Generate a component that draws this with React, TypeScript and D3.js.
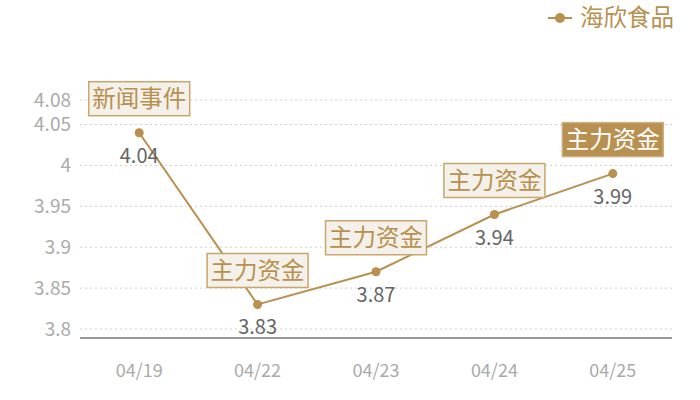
import * as d3 from "d3";

const WIDTH = 700;
const HEIGHT = 400;
const MARGIN = { top: 0, right: 28, bottom: 62, left: 80 };

const dates = ["04/19", "04/22", "04/23", "04/24", "04/25"];
const prices = [4.04, 3.83, 3.87, 3.94, 3.99];
const tags = ["新闻事件", "主力资金", "主力资金", "主力资金", "主力资金"];
const highlighted = [false, false, false, false, true];
const yTicks = [3.8, 3.85, 3.9, 3.95, 4, 4.05, 4.08];
const seriesName = "海欣食品";

const GOLD = "#b8904f";
const FONT = "'Noto Sans CJK SC', 'Noto Sans', sans-serif";

export default function App() {
  const boundsWidth = WIDTH - MARGIN.left - MARGIN.right;
  const bottom = HEIGHT - MARGIN.bottom;

  const xScale = d3.scaleBand().domain(dates).range([MARGIN.left, MARGIN.left + boundsWidth]);
  const yScale = d3.scaleLinear().domain([3.789, 4.08]).range([bottom, 100]);
  const xPos = (d: string) => (xScale(d) ?? 0) + xScale.bandwidth() / 2;

  const line = d3
    .line<number>()
    .x((_, i) => xPos(dates[i]))
    .y((v) => yScale(v));

  return (
    <svg
      width={WIDTH}
      height={HEIGHT}
      style={{ position: "absolute", top: 0, left: 0, fontFamily: FONT }}
    >
      <rect width={WIDTH} height={HEIGHT} fill="#fff" />

      {/* legend */}
      <g transform="translate(548,18)">
        <line x1={0} x2={24} y1={0} y2={0} stroke={GOLD} strokeWidth={2} />
        <circle cx={12} cy={0} r={5} fill={GOLD} />
        <text x={32} y={0} dy="0.36em" fontSize={23.5} fill={GOLD}>
          {seriesName}
        </text>
      </g>

      {/* grid + y labels */}
      {yTicks.map((t) => (
        <g key={t}>
          <line
            x1={MARGIN.left}
            x2={MARGIN.left + boundsWidth}
            y1={yScale(t)}
            y2={yScale(t)}
            stroke="#cfcfcf"
            strokeDasharray="2,3"
          />
          <text
            x={71}
            y={yScale(t)}
            dy="0.35em"
            textAnchor="end"
            fontSize={19}
            fill="#aaa"
          >
            {t}
          </text>
        </g>
      ))}

      {/* x axis */}
      <line
        x1={MARGIN.left}
        x2={MARGIN.left + boundsWidth}
        y1={bottom}
        y2={bottom}
        stroke="#333"
        strokeWidth={1.2}
      />
      {dates.map((d) => (
        <text
          key={d}
          x={xPos(d)}
          y={371}
          dy="0.35em"
          textAnchor="middle"
          fontSize={18}
          fill="#aaa"
        >
          {d}
        </text>
      ))}

      {/* series */}
      <path d={line(prices) ?? ""} fill="none" stroke={GOLD} strokeWidth={2} />
      {prices.map((v, i) => (
        <circle key={i} cx={xPos(dates[i])} cy={yScale(v)} r={4.5} fill={GOLD} />
      ))}
      {prices.map((v, i) => (
        <text
          key={i}
          x={xPos(dates[i])}
          y={yScale(v) + 23}
          dy="0.35em"
          textAnchor="middle"
          fontSize={20}
          fill="#666"
        >
          {v.toFixed(2)}
        </text>
      ))}

      {/* annotations */}
      {prices.map((v, i) => {
        const cx = xPos(dates[i]);
        const cy = yScale(v) - 34;
        const hl = highlighted[i];
        return (
          <g key={i}>
            <rect
              x={cx - 50.5}
              y={cy - 17}
              width={101}
              height={34}
              fill={hl ? GOLD : "#f4f0ea"}
              stroke={hl ? "#cbb085" : "#c9a66b"}
              strokeWidth={1.5}
            />
            <text
              x={cx}
              y={cy}
              dy="0.36em"
              textAnchor="middle"
              fontSize={23.5}
              fill={hl ? "#fff" : GOLD}
            >
              {tags[i]}
            </text>
          </g>
        );
      })}
    </svg>
  );
}
